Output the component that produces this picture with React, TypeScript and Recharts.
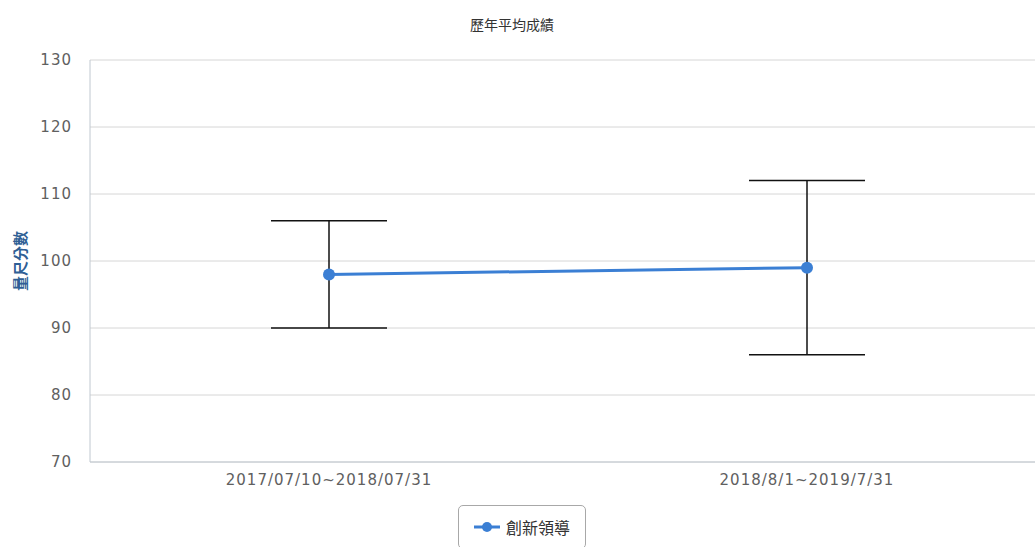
import { LineChart, Line, XAxis, YAxis, CartesianGrid, ErrorBar } from 'recharts';

const periods = ['2017/07/10~2018/07/31', '2018/8/1~2019/7/31'];
const averages = [98, 99];
const lows = [90, 86];
const highs = [106, 112];
const yTicks = [70, 80, 90, 100, 110, 120, 130];
const seriesName = '創新領導';

const data = periods.map((p, i) => ({
  period: p,
  score: averages[i],
  range: [averages[i] - lows[i], highs[i] - averages[i]],
}));

const cjk = '"Noto Sans CJK TC", "Noto Sans", sans-serif';
const tickFont = '"DejaVu Sans", sans-serif';
const blue = '#3b7fd4';

function LegendBox() {
  return (
    <div style={{
      position: 'absolute', left: 458, top: 505, width: 128, height: 44, boxSizing: 'border-box',
      border: '1px solid #a8a8a8', borderRadius: 5,
      display: 'flex', alignItems: 'center', justifyContent: 'center', gap: 6, background: '#fff',
    }}>
      <svg width={26} height={14}>
        <line x1={0} y1={7} x2={26} y2={7} stroke={blue} strokeWidth={3} />
        <circle cx={13} cy={7} r={5} fill={blue} />
      </svg>
      <span style={{ fontFamily: cjk, fontSize: 16, color: '#333' }}>{seriesName}</span>
    </div>
  );
}

export default function App() {
  return (
    <div style={{ position: 'absolute', left: 0, top: 0, width: 1035, height: 547, overflow: 'hidden', background: '#fff' }}>
      <div style={{ position: 'absolute', top: 14, left: 470, fontFamily: cjk, fontSize: 14, color: '#333' }}>
        歷年平均成績
      </div>
      <LineChart width={1050} height={547} data={data} margin={{ top: 60, right: 4, bottom: 0, left: 0 }}>
        <CartesianGrid vertical={false} stroke="#d6d6d6" />
        <XAxis
          dataKey="period"
          padding={{ left: 239, right: 239 }}
          stroke="#c0c8d0"
          tickLine={false}
          height={85}
          tick={{ fill: '#606060', fontSize: 15, fontFamily: tickFont, letterSpacing: 1 }}
          tickMargin={6}
        />
        <YAxis
          width={90}
          domain={[70, 130]}
          ticks={yTicks}
          stroke="#c0c8d0"
          tickLine={false}
          tick={{ fill: '#606060', fontSize: 15, fontFamily: tickFont, letterSpacing: 1 }}
          tickMargin={12}
          label={({ viewBox }: any) => (
            <text
              x={19}
              y={viewBox.y + viewBox.height / 2}
              transform={`rotate(-90, 19, ${viewBox.y + viewBox.height / 2})`}
              textAnchor="middle"
              dominantBaseline="central"
              fill="#2f5f95"
              fontWeight="bold"
              fontSize={15}
              fontFamily={cjk}
            >
              量尺分數
            </text>
          )}
        />
        <Line
          type="linear"
          dataKey="score"
          name={seriesName}
          stroke={blue}
          strokeWidth={3}
          dot={{ r: 6, fill: blue, stroke: blue, strokeWidth: 0 }}
          activeDot={false}
          isAnimationActive={false}
        >
          <ErrorBar dataKey="range" width={58} stroke="#111" strokeWidth={1.5} direction="y" />
        </Line>
      </LineChart>
      <LegendBox />
    </div>
  );
}
